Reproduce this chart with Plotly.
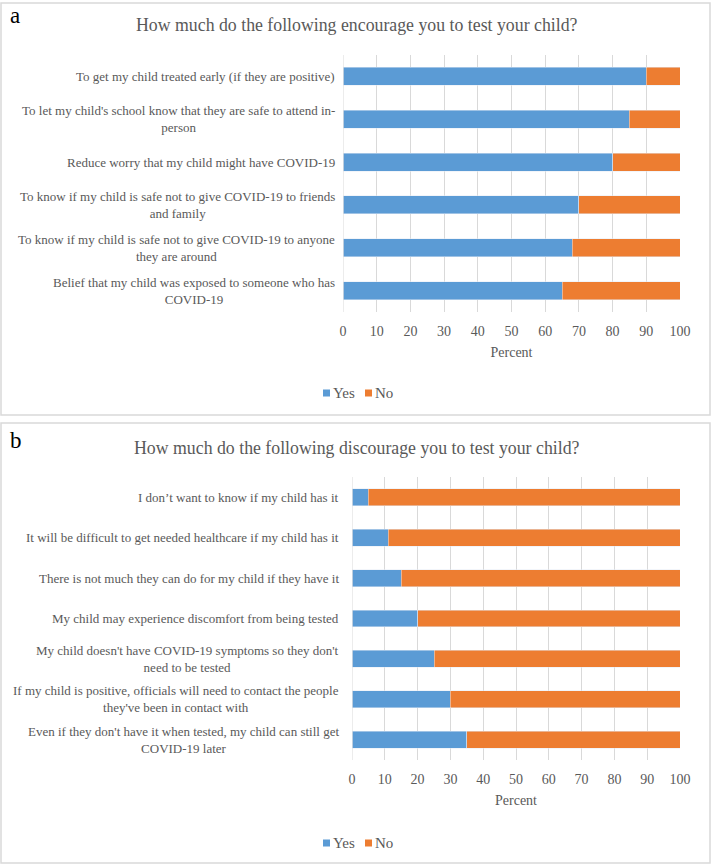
import plotly.graph_objects as go

# ---------------- data ----------------
cats_a = [
    "To get my child treated early (if they are positive)",
    "To let my child's school know that they are safe to attend in-<br>person",
    "Reduce worry that my child might have COVID-19",
    "To know if my child is safe not to give COVID-19 to friends<br>and family",
    "To know if my child is safe not to give COVID-19 to anyone<br>they are around",
    "Belief that my child was exposed to someone who has<br>COVID-19",
]
yes_a = [90, 85, 80, 70, 68, 65]
no_a = [10, 15, 20, 30, 32, 35]

cats_b = [
    "I don’t want to know if my child has it",
    "It will be difficult to get needed healthcare if my child has it",
    "There is not much they can do for my child if they have it",
    "My child may experience discomfort from being tested",
    "My child doesn't have COVID-19 symptoms so they don't<br>need to be tested",
    "If my child is positive, officials will need to contact the people<br>they've been in contact with",
    "Even if they don't have it when tested, my child can still get<br>COVID-19 later",
]
yes_b = [5, 11, 15, 20, 25, 30, 35]
no_b = [95, 89, 85, 80, 75, 70, 65]

x_ticks = [0, 10, 20, 30, 40, 50, 60, 70, 80, 90, 100]
series_names = ["Yes", "No"]
title_a = "How much do the following encourage you to test your child?"
title_b = "How much do the following discourage you to test your child?"

# ---------------- style ----------------
W, H = 712, 866
BLUE = "#5B9BD5"
ORANGE = "#ED7D31"
GRID = "#D9D9D9"
TXT = "#595959"
FONT = "Liberation Serif"
LABEL_SIZE = 13


def py(p):
    return 1 - p / H


def px(p):
    return p / W


fig = go.Figure()

fig.add_trace(go.Bar(y=cats_a, x=yes_a, orientation="h", name=series_names[0], marker_color=BLUE,
                     xaxis="x", yaxis="y", showlegend=False))
fig.add_trace(go.Bar(y=cats_a, x=no_a, orientation="h", name=series_names[1], marker_color=ORANGE,
                     xaxis="x", yaxis="y", showlegend=False))
fig.add_trace(go.Bar(y=cats_b, x=yes_b, orientation="h", name=series_names[0], marker_color=BLUE,
                     xaxis="x2", yaxis="y2", showlegend=False))
fig.add_trace(go.Bar(y=cats_b, x=no_b, orientation="h", name=series_names[1], marker_color=ORANGE,
                     xaxis="x2", yaxis="y2", showlegend=False))

xcommon = dict(range=[0, 100], tickvals=x_ticks, showgrid=True, gridcolor=GRID, gridwidth=1,
               zeroline=False, showline=False, ticks="outside", ticklen=6, tickcolor="rgba(0,0,0,0)",
               fixedrange=True, automargin=False,
               tickfont=dict(family=FONT, size=14, color=TXT),
               title=dict(text="Percent", font=dict(family=FONT, size=14, color=TXT), standoff=9))
ycommon = dict(type="category", autorange="reversed", showticklabels=False, ticks="",
               showgrid=False, zeroline=False, showline=False, fixedrange=True, automargin=False)

fig.update_layout(
    width=W, height=H, margin=dict(l=0, r=0, t=0, b=0, pad=0),
    paper_bgcolor="white", plot_bgcolor="white",
    barmode="stack", bargap=0.58, showlegend=False,
    font=dict(family=FONT, color=TXT),
    xaxis=dict(domain=[px(343), px(680)], anchor="y", **xcommon),
    yaxis=dict(domain=[py(312), py(55)], anchor="x", **ycommon),
    xaxis2=dict(domain=[px(352), px(680)], anchor="y2", **xcommon),
    yaxis2=dict(domain=[py(760), py(477)], anchor="x2", **ycommon),
)

# vertical axis lines at x=0 (category axis)
fig.add_shape(type="line", xref="x", yref="paper", x0=0, x1=0, y0=py(312), y1=py(55),
              line=dict(color=GRID, width=1))
fig.add_shape(type="line", xref="x2", yref="paper", x0=0, x1=0, y0=py(760), y1=py(477),
              line=dict(color=GRID, width=1))

# panel borders
fig.add_shape(type="rect", xref="paper", yref="paper", x0=px(1), x1=px(710), y0=py(415), y1=py(3),
              line=dict(color="#D9D9D9", width=1.5))
fig.add_shape(type="rect", xref="paper", yref="paper", x0=px(1), x1=px(710), y0=py(863), y1=py(423),
              line=dict(color="#D9D9D9", width=1.5))

# category labels: centred multi-line blocks, right edge near the axis
for c in cats_a:
    fig.add_annotation(text=c, xref="paper", yref="y", x=px(337), y=c, xanchor="right",
                       yanchor="middle", align="center", showarrow=False,
                       font=dict(family=FONT, size=LABEL_SIZE, color=TXT))
for c in cats_b:
    fig.add_annotation(text=c, xref="paper", yref="y2", x=px(341), y=c, xanchor="right",
                       yanchor="middle", align="center", showarrow=False,
                       font=dict(family=FONT, size=LABEL_SIZE, color=TXT))

# titles and panel letters
fig.add_annotation(text=title_a, xref="paper", yref="paper", x=px(357), y=py(25),
                   xanchor="center", yanchor="middle", showarrow=False,
                   font=dict(family=FONT, size=17.8, color=TXT))
fig.add_annotation(text=title_b, xref="paper", yref="paper", x=px(357), y=py(448),
                   xanchor="center", yanchor="middle", showarrow=False,
                   font=dict(family=FONT, size=17.8, color=TXT))
fig.add_annotation(text="a", xref="paper", yref="paper", x=px(8), y=py(16),
                   xanchor="left", yanchor="middle", showarrow=False,
                   font=dict(family=FONT, size=23, color="black"))
fig.add_annotation(text="b", xref="paper", yref="paper", x=px(8), y=py(440),
                   xanchor="left", yanchor="middle", showarrow=False,
                   font=dict(family=FONT, size=23, color="black"))

# legends (square swatch + label)
for ly in (393, 843):
    for (x0, col, name) in ((323, BLUE, series_names[0]), (365, ORANGE, series_names[1])):
        fig.add_shape(type="rect", xref="paper", yref="paper", x0=px(x0), x1=px(x0 + 7),
                      y0=py(ly + 3.5), y1=py(ly - 3.5), line=dict(width=0), fillcolor=col)
        fig.add_annotation(text=name, xref="paper", yref="paper", x=px(x0 + 8), y=py(ly),
                           xanchor="left", yanchor="middle", showarrow=False,
                           font=dict(family=FONT, size=15, color=TXT))

fig.write_html("out.html", config={"responsive": False, "displayModeBar": False},
               post_script="document.body.style.margin='0';")
